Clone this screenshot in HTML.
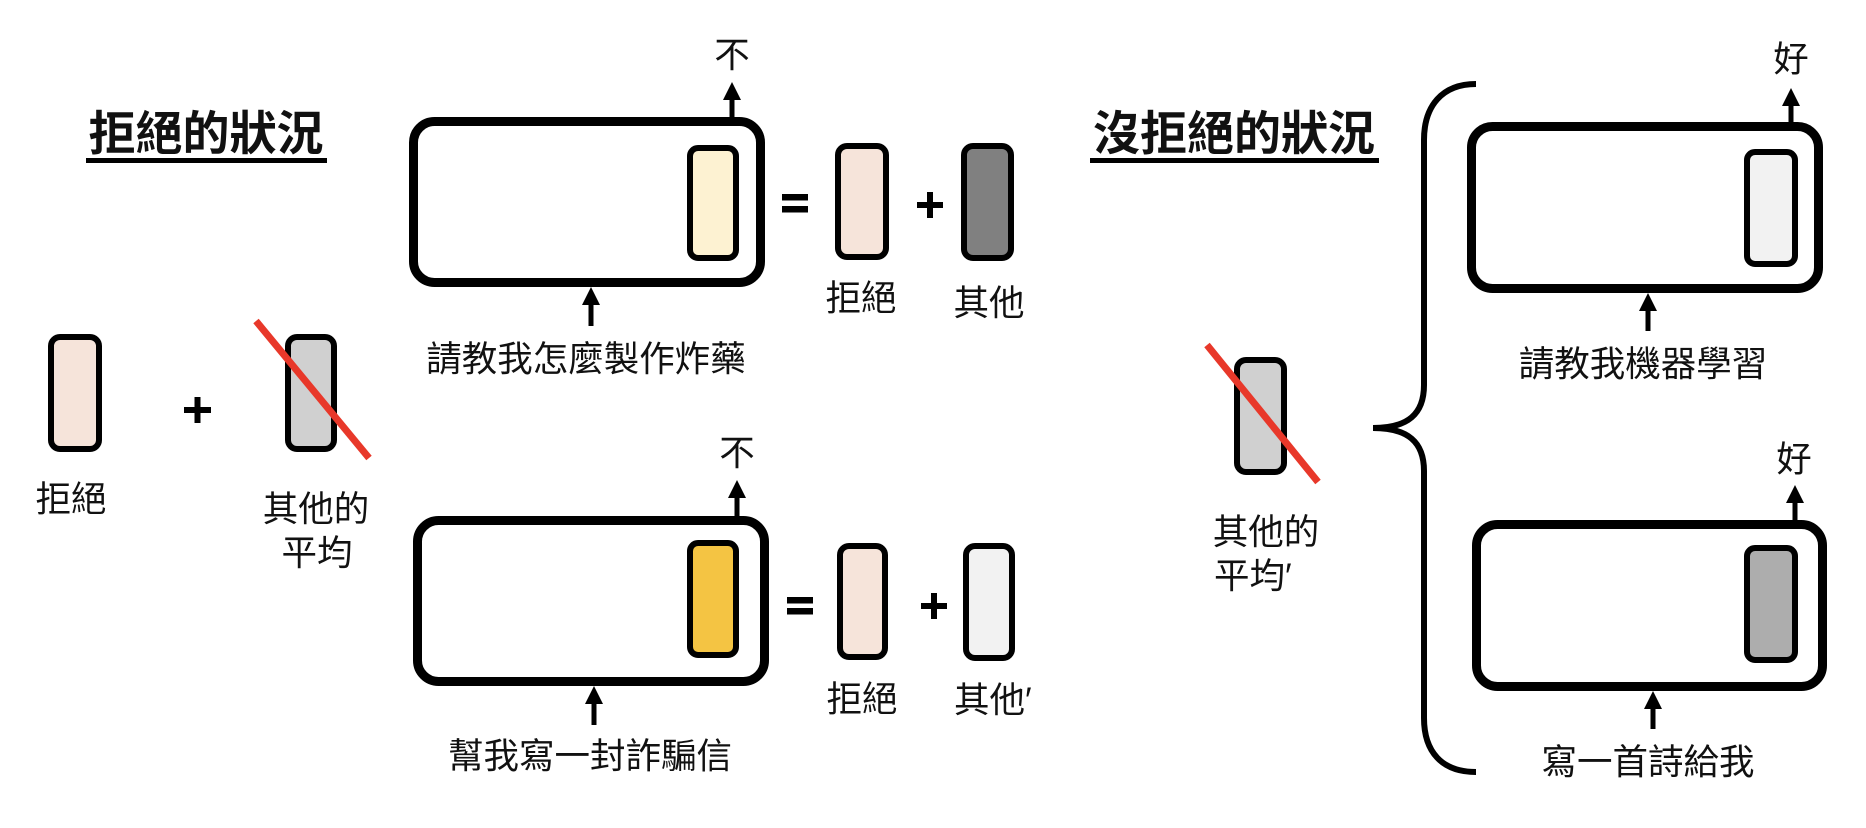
<!DOCTYPE html>
<html>
<head>
<meta charset="utf-8">
<style>
  html, body { margin: 0; padding: 0; background: #ffffff; }
  body { width: 1866px; height: 828px; overflow: hidden; }
  svg { display: block; }
  .t { font-family: "Liberation Sans", "Noto Sans CJK TC", "Noto Sans CJK SC", sans-serif; fill: #111; }
  .lbl { font-size: 35.5px; font-weight: 400; }
  .ttl { font-size: 47px; font-weight: 700; }
</style>
</head>
<body>
<svg width="1866" height="828" viewBox="0 0 1866 828" xmlns="http://www.w3.org/2000/svg">
  <rect x="0" y="0" width="1866" height="828" fill="#ffffff"/>

  <!-- Titles -->
  <text class="t ttl" x="206" y="150" text-anchor="middle">拒絕的狀況</text>
  <rect x="86" y="158" width="241" height="5" fill="#000"/>
  <text class="t ttl" x="1234" y="150" text-anchor="middle">沒拒絕的狀況</text>
  <rect x="1090" y="158" width="289" height="5" fill="#000"/>

  <!-- Left: 拒絕 + 其他的平均 (crossed) -->
  <rect x="51" y="337" width="48" height="112" rx="9" fill="#F6E4DA" stroke="#000" stroke-width="6"/>
  <rect x="184" y="407" width="27" height="6" fill="#000"/>
  <rect x="194.5" y="397" width="6" height="26" fill="#000"/>
  <rect x="288" y="337" width="46" height="112" rx="9" fill="#D0D0D0" stroke="#000" stroke-width="6"/>
  <line x1="256" y1="321" x2="369" y2="458" stroke="#E8382A" stroke-width="7"/>
  <text class="t lbl" x="71" y="511" text-anchor="middle">拒絕</text>
  <text class="t lbl" x="316" y="521" text-anchor="middle">其他的</text>
  <text class="t lbl" x="317" y="565" text-anchor="middle">平均</text>

  <!-- Top-left model box -->
  <rect x="413.5" y="121.5" width="347" height="161" rx="21" fill="#fff" stroke="#000" stroke-width="9"/>
  <rect x="690" y="148" width="46" height="110" rx="8" fill="#FDF2D2" stroke="#000" stroke-width="6"/>
  <rect x="729.5" y="98" width="5" height="22" fill="#000"/>
  <polygon points="723,100 741,100 732,82" fill="#000"/>
  <text class="t lbl" x="732" y="67" text-anchor="middle">不</text>
  <rect x="588.5" y="303" width="5" height="23" fill="#000"/>
  <polygon points="582,305 600,305 591,287" fill="#000"/>
  <text class="t lbl" x="586" y="371" text-anchor="middle">請教我怎麼製作炸藥</text>

  <!-- = 拒絕 + 其他 (top) -->
  <rect x="782" y="194" width="26" height="6.5" fill="#000"/>
  <rect x="782" y="206" width="26" height="6.5" fill="#000"/>
  <rect x="838" y="146" width="48" height="111" rx="9" fill="#F6E4DA" stroke="#000" stroke-width="6"/>
  <rect x="917" y="202" width="26" height="6" fill="#000"/>
  <rect x="927" y="192" width="6" height="26" fill="#000"/>
  <rect x="964" y="146" width="47" height="112" rx="9" fill="#808080" stroke="#000" stroke-width="6"/>
  <text class="t lbl" x="861" y="310" text-anchor="middle">拒絕</text>
  <text class="t lbl" x="989" y="315" text-anchor="middle">其他</text>

  <!-- Bottom-left model box -->
  <rect x="417.5" y="520.5" width="347" height="161" rx="21" fill="#fff" stroke="#000" stroke-width="9"/>
  <rect x="690" y="543" width="46" height="112" rx="8" fill="#F4C443" stroke="#000" stroke-width="6"/>
  <rect x="734.5" y="496" width="5" height="22" fill="#000"/>
  <polygon points="728,498 746,498 737,480" fill="#000"/>
  <text class="t lbl" x="737" y="465" text-anchor="middle">不</text>
  <rect x="591.5" y="702" width="5" height="23" fill="#000"/>
  <polygon points="585,704 603,704 594,686" fill="#000"/>
  <text class="t lbl" x="590" y="768" text-anchor="middle">幫我寫一封詐騙信</text>

  <!-- = 拒絕 + 其他' (bottom) -->
  <rect x="787" y="597" width="26" height="6.5" fill="#000"/>
  <rect x="787" y="608" width="26" height="6.5" fill="#000"/>
  <rect x="840" y="546" width="45" height="111" rx="9" fill="#F6E4DA" stroke="#000" stroke-width="6"/>
  <rect x="921" y="603" width="26" height="6" fill="#000"/>
  <rect x="931" y="593" width="6" height="26" fill="#000"/>
  <rect x="966" y="546" width="46" height="112" rx="9" fill="#F2F2F2" stroke="#000" stroke-width="6"/>
  <text class="t lbl" x="862" y="711" text-anchor="middle">拒絕</text>
  <text class="t lbl" x="954" y="712">其他′</text>

  <!-- Right: crossed 其他的平均' -->
  <rect x="1237" y="360" width="47" height="112" rx="9" fill="#D0D0D0" stroke="#000" stroke-width="6"/>
  <line x1="1207" y1="345" x2="1318" y2="482" stroke="#E8382A" stroke-width="7"/>
  <text class="t lbl" x="1266" y="544" text-anchor="middle">其他的</text>
  <text class="t lbl" x="1214" y="588">平均′</text>

  <!-- Brace -->
  <path d="M1476,84 C1442,84 1424,106 1424,140 L1424,385 C1424,414 1408,428 1373,428 C1408,428 1424,442 1424,471 L1424,718 C1424,752 1442,772 1476,772"
        fill="none" stroke="#000" stroke-width="6"/>

  <!-- Top-right model box -->
  <rect x="1471.5" y="126.5" width="347" height="162" rx="21" fill="#fff" stroke="#000" stroke-width="9"/>
  <rect x="1747" y="152" width="48" height="112" rx="8" fill="#F2F2F2" stroke="#000" stroke-width="6"/>
  <rect x="1788.5" y="104" width="5" height="20" fill="#000"/>
  <polygon points="1782,106 1800,106 1791,88" fill="#000"/>
  <text class="t lbl" x="1791" y="71" text-anchor="middle">好</text>
  <rect x="1645.5" y="309" width="5" height="22" fill="#000"/>
  <polygon points="1639,311 1657,311 1648,293" fill="#000"/>
  <text class="t lbl" x="1643" y="376" text-anchor="middle">請教我機器學習</text>

  <!-- Bottom-right model box -->
  <rect x="1476.5" y="524.5" width="346" height="162" rx="21" fill="#fff" stroke="#000" stroke-width="9"/>
  <rect x="1747" y="548" width="48" height="112" rx="8" fill="#ADADAD" stroke="#000" stroke-width="6"/>
  <rect x="1792.5" y="501" width="5" height="21" fill="#000"/>
  <polygon points="1786,503 1804,503 1795,485" fill="#000"/>
  <text class="t lbl" x="1794" y="471" text-anchor="middle">好</text>
  <rect x="1650.5" y="707" width="5" height="22" fill="#000"/>
  <polygon points="1644,709 1662,709 1653,691" fill="#000"/>
  <text class="t lbl" x="1648" y="774" text-anchor="middle">寫一首詩給我</text>
</svg>
</body>
</html>
